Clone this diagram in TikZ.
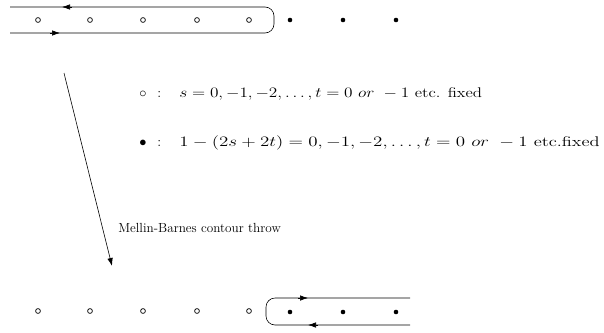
\documentclass[tikz,border=0pt]{standalone}
\usetikzlibrary{arrows.meta}
\tikzset{
  pole/.style={circle, draw, line width=0.7pt, inner sep=0pt, minimum size=4.8pt},
  zero/.style={circle, fill, inner sep=0pt, minimum size=4.6pt},
  tip/.style={-{Latex[length=8pt,width=5.5pt]}},
  legend/.style={anchor=base west, inner sep=0pt},
}
\begin{document}
\begin{tikzpicture}[x=1pt, y=-1pt, line width=0.6pt, font=\fontsize{14}{16}\selectfont]
    \useasboundingbox (0,0) rectangle (604,332);
    % poles of the gamma functions
    \foreach \x [count=\i] in {38,90,143,197,249} {
        \node[pole] (up\i) at (\x,20) {};
        \node[pole] (dn\i) at (\x,311) {};
    }
    \foreach \x [count=\i] in {290,343,396} {
        \node[zero] (uz\i) at (\x,20) {};
        \node[zero] (dz\i) at (\x,312) {};
    }
    % contour around the circles
    \draw[rounded corners=9pt] (10,7) -- (274,7) -- (274,33) -- (10,33);
    \draw[tip] (72,7) -- (62,7);
    \draw[tip] (50,33) -- (60,33);
    % contour around the dots
    \draw[rounded corners=9pt] (410,298) -- (266,298) -- (266,325) -- (410,325);
    \draw[tip] (298,298) -- (308,298);
    \draw[tip] (318,325) -- (308,325);
    % legend
    \node (l1) [legend] at (139,97) {\makebox[18pt][l]{$\circ$}\makebox[22pt][l]{:}\scalebox{1.2}[1]{$s=0,-1,-2,\ldots,t=0\ or\ -1$ etc. fixed}};
    \node (l2) [legend] at (139,146) {\makebox[18pt][l]{$\bullet$}\makebox[22pt][l]{:}\scalebox{1.32}[1]{$1-(2s+2t)=0,-1,-2,\ldots,t=0\ or\ -1$ etc.fixed}};
    % deformation of the contour
    \coordinate (from) at (64,73);
    \coordinate (to) at (112,266);
    \draw[tip] (from) -- (to);
    \node (mb) [legend, font=\fontsize{13.2}{16}\selectfont] at (118,232) {Mellin-Barnes contour throw};
\end{tikzpicture}
\end{document}
